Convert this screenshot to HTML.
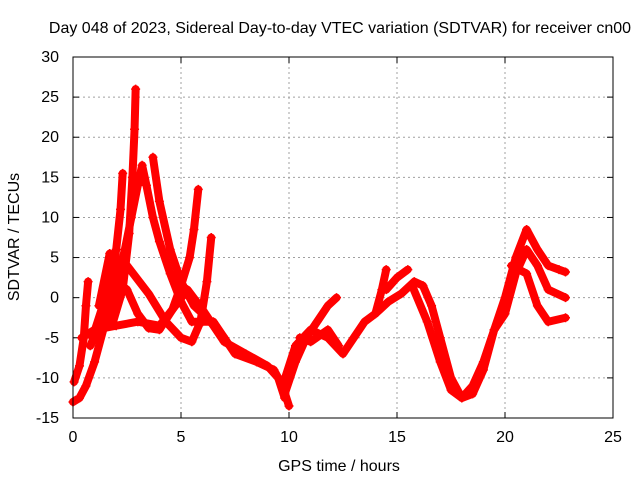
<!DOCTYPE html>
<html><head><meta charset="utf-8"><style>
body{margin:0;background:#fff}
svg text{font-family:"Liberation Sans",sans-serif;font-size:16px;fill:#000}
</style></head><body>
<svg id="c" width="640" height="480"></svg>
<script>
const xTicks=[0,5,10,15,20,25];
const yTicks=[-15,-10,-5,0,5,10,15,20,25,30];
const arcA=[[0,-13],[0.3,-12.5],[0.6,-11],[1,-8],[1.5,-3],[2,1.5],[2.4,6],[2.7,10],[3,14],[3.2,16.5],[3.4,14],[3.7,10],[4,7],[4.5,3],[5,-0.5],[5.5,-3],[6,-3],[6.5,-3],[7,-5],[7.5,-7],[8.5,-8],[9.3,-9],[9.7,-11],[10,-13.5]];
const arcB=[[0.05,-10.5],[0.3,-8.5],[0.5,-5],[0.6,-1],[0.7,2]];
const arcC=[[0.8,-6],[1.3,-3],[1.7,1],[2,6],[2.2,11],[2.3,15.5]];
const arcD=[[1.8,-3.5],[2.3,1],[2.6,8],[2.75,15],[2.85,21],[2.9,26]];
const arcE=[[1.2,-1],[1.7,5.5],[2.5,4],[3.5,0.5],[4.3,-3],[5,-5],[5.5,-5.5],[5.9,-3],[6.2,2],[6.4,7.5]];
const arcF=[[0.4,-5],[1,-4],[2,-3.5],[3,-3],[4,-3.5],[4.6,-1.5],[5,1.5],[5.4,5],[5.6,8.5],[5.8,13.5]];
const arcG=[[0.9,-5],[1.5,0],[2,2],[2.5,1],[3,-2],[3.5,-3.8],[4,-4],[4.6,-1.5],[5.3,1],[6,-1.5],[7,-5.5],[8,-7],[9,-8.5],[9.5,-10],[9.8,-12.5]];
const arcH=[[3.7,17.5],[4,12],[4.5,6],[5,2],[5.6,-1],[6.2,-2.5],[7,-5]];
const arcI=[[9.8,-12],[10.3,-8],[10.8,-5],[11.3,-3],[11.8,-1],[12.2,0]];
const arcJ=[[9.7,-11],[10.3,-6],[11,-4],[11.8,-5],[12.5,-7],[13,-5],[13.5,-3],[14,-2],[14.3,1],[14.5,3.5]];
const arcK=[[10.5,-5],[11,-5.5],[11.8,-4],[12.3,-6]];
const arcL=[[14,-2],[14.6,-0.5],[15.2,0.5],[15.8,2],[16.2,1.5],[16.6,-1],[17,-5],[17.5,-10],[18,-12.5],[18.5,-12],[19,-9],[19.5,-4],[20,0],[20.5,5],[21,8.5],[21.5,6],[22,4],[22.5,3.5],[22.8,3.2]];
const arcM=[[14.5,1],[15,2.5],[15.5,3.5]];
const arcN=[[15.7,1.5],[16.4,-3],[17,-8],[17.5,-11.5],[18,-12.5],[18.5,-11],[19,-8],[19.5,-4],[20,-2],[20.5,3],[21,6],[21.5,4],[22,1],[22.8,0]];
const arcO=[[20.3,4],[21,3],[21.5,-1],[22,-3],[22.8,-2.5]];
const series=[arcA,arcB,arcC,arcD,arcE,arcF,arcG,arcH,arcI,arcJ,arcK,arcL,arcM,arcN,arcO];
const X0=73,X1=613,Y0=418,Y1=57;
const sx=v=>X0+(v-0)/25*(X1-X0);
const sy=v=>Y0-(v+15)/45*(Y0-Y1);
const svg=document.getElementById('c');
const NS='http://www.w3.org/2000/svg';
function mk(t,a){const e=document.createElementNS(NS,t);for(const k in a)e.setAttribute(k,a[k]);svg.appendChild(e);return e;}
mk('rect',{x:0,y:0,width:640,height:480,fill:'#fff'});
xTicks.forEach(t=>{
 if(t>0&&t<25){const g=mk('line',{x1:sx(t),x2:sx(t),y1:Y1,y2:Y0,stroke:'#a0a0a0','stroke-dasharray':'2,3'});
 }
 mk('line',{x1:sx(t),x2:sx(t),y1:Y0,y2:Y0-6,stroke:'#000'});mk('line',{x1:sx(t),x2:sx(t),y1:Y1,y2:Y1+6,stroke:'#000'});
 const l=mk('text',{x:sx(t),y:Y0+24,'text-anchor':'middle'});l.textContent=t;
 
});
yTicks.forEach(t=>{
 if(t>-15&&t<30){const g=mk('line',{x1:X0,x2:X1,y1:sy(t),y2:sy(t),stroke:'#a0a0a0','stroke-dasharray':'2,3'});
 }
 mk('line',{x1:X0,x2:X0+6,y1:sy(t),y2:sy(t),stroke:'#000'});mk('line',{x1:X1,x2:X1-6,y1:sy(t),y2:sy(t),stroke:'#000'});
 const l=mk('text',{x:X0-14,y:sy(t)+5,'text-anchor':'end'});l.textContent=t;
 
});
series.forEach(s=>{
 const p=mk('polyline',{points:s.map(d=>sx(d[0])+','+sy(d[1])).join(' '),fill:'none',stroke:'#ff0000','stroke-width':8,'stroke-linejoin':'round','stroke-linecap':'round'});
 
 
 s.forEach(d=>{const m=mk('path',{d:`M${sx(d[0])-4.5},${sy(d[1])}h9M${sx(d[0])},${sy(d[1])-4.5}v9`,stroke:'#ff0000','stroke-width':1.5});
 
 });
});
const fr=mk('rect',{x:X0,y:Y1,width:X1-X0,height:Y0-Y1,fill:'none',stroke:'#000'});

const ti=mk('text',{x:340,y:33,'text-anchor':'middle'});ti.textContent='Day 048 of 2023, Sidereal Day-to-day VTEC variation (SDTVAR) for receiver cn00';

const xt=mk('text',{x:339,y:471,'text-anchor':'middle'});xt.textContent='GPS time / hours';

const yt=mk('text',{x:19,y:237,'text-anchor':'middle',transform:'rotate(-90 19 237)'});yt.textContent='SDTVAR / TECUs';

</script>
</body></html>
